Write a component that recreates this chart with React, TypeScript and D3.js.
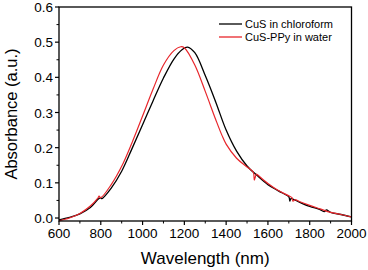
import React from "react";
import * as d3 from "d3";

const blackWl = [600, 650, 700, 750, 790, 800, 805, 850, 900, 950, 1000, 1050, 1100, 1150, 1190, 1215, 1250, 1300, 1350, 1400, 1450, 1500, 1550, 1600, 1650, 1700, 1705, 1710, 1750, 1800, 1850, 1870, 1880, 1900, 1950, 2000];
const blackAbs = [-0.005, 0.002, 0.012, 0.03, 0.055, 0.057, 0.055, 0.085, 0.133, 0.198, 0.265, 0.333, 0.398, 0.452, 0.479, 0.486, 0.47, 0.405, 0.33, 0.25, 0.19, 0.148, 0.12, 0.095, 0.077, 0.06, 0.048, 0.055, 0.045, 0.033, 0.024, 0.018, 0.023, 0.016, 0.01, 0.003];

const redWl = [600, 650, 700, 750, 785, 792, 800, 850, 900, 950, 1000, 1050, 1100, 1150, 1183, 1200, 1250, 1300, 1350, 1380, 1400, 1450, 1500, 1530, 1535, 1545, 1550, 1600, 1650, 1700, 1715, 1720, 1730, 1750, 1800, 1850, 1900, 1950, 2000];
const redAbs = [-0.008, 0.0, 0.013, 0.034, 0.056, 0.062, 0.058, 0.095, 0.147, 0.215, 0.29, 0.366, 0.435, 0.476, 0.487, 0.484, 0.435, 0.36, 0.28, 0.235, 0.21, 0.17, 0.145, 0.13, 0.108, 0.125, 0.123, 0.098, 0.078, 0.063, 0.058, 0.048, 0.052, 0.047, 0.036, 0.026, 0.016, 0.01, 0.003];

const xTicks = [600, 800, 1000, 1200, 1400, 1600, 1800, 2000];
const yTicks = [0.0, 0.1, 0.2, 0.3, 0.4, 0.5, 0.6];
const seriesNames = ["CuS in chloroform", "CuS-PPy in water"];
const seriesColors = ["#000000", "#e8262b"];

export default function App() {
  const W = 368, H = 270;
  const left = 59, right = 351.5, top = 7, bottom = 221;
  const x = d3.scaleLinear().domain([600, 2000]).range([left, right]);
  const y = d3.scaleLinear().domain([-0.0085, 0.6]).range([bottom, top]);
  const line = d3
    .line<[number, number]>()
    .x((d) => x(d[0]))
    .y((d) => y(d[1]))
    .curve(d3.curveCatmullRom.alpha(0.5));
  const blackData = blackWl.map((w, i) => [w, blackAbs[i]] as [number, number]);
  const redData = redWl.map((w, i) => [w, redAbs[i]] as [number, number]);
  const xMinor = d3.range(700, 2000, 200);
  const yMinor = d3.range(0.05, 0.6, 0.1);
  const font = "'Liberation Sans', Arial, sans-serif";
  return (
    <svg width={W} height={H} style={{ position: "absolute", left: 0, top: 0 }}>
      <rect width={W} height={H} fill="#fff" />
      <path d={line(blackData) || ""} fill="none" stroke={seriesColors[0]} strokeWidth={1.3} />
      <path d={line(redData) || ""} fill="none" stroke={seriesColors[1]} strokeWidth={1.2} />
      <rect x={left} y={top} width={right - left} height={bottom - top} fill="none" stroke="#000" strokeWidth={1.3} />
      {xTicks.map((t) => (
        <g key={"xt" + t}>
          <line x1={x(t)} x2={x(t)} y1={bottom} y2={bottom + 4} stroke="#000" strokeWidth={1.2} />
          <text x={x(t)} y={238} textAnchor="middle" fontFamily={font} fontSize={13.5}>
            {t}
          </text>
        </g>
      ))}
      {xMinor.map((t) => (
        <line key={"xm" + t} x1={x(t)} x2={x(t)} y1={bottom} y2={bottom + 2.5} stroke="#000" strokeWidth={1} />
      ))}
      {yTicks.map((t) => (
        <g key={"yt" + t}>
          <line x1={left - 4} x2={left} y1={y(t)} y2={y(t)} stroke="#000" strokeWidth={1.2} />
          <text x={53} y={y(t) + 5} textAnchor="end" fontFamily={font} fontSize={13.5}>
            {t.toFixed(1)}
          </text>
        </g>
      ))}
      {yMinor.map((t) => (
        <line key={"ym" + t} x1={left - 2.5} x2={left} y1={y(t)} y2={y(t)} stroke="#000" strokeWidth={1} />
      ))}
      <text x={(left + right) / 2} y={264} textAnchor="middle" fontFamily={font} fontSize={17}>
        Wavelength (nm)
      </text>
      <text
        transform={`translate(17,${(top + bottom) / 2}) rotate(-90)`}
        textAnchor="middle"
        fontFamily={font}
        fontSize={16.5}
      >
        Absorbance (a.u.)
      </text>
      {seriesNames.map((name, i) => (
        <g key={name}>
          <line x1={219} x2={242} y1={24 + i * 13} y2={24 + i * 13} stroke={seriesColors[i]} strokeWidth={1.3} />
          <text x={245} y={24 + i * 13 + 4} fontFamily={font} fontSize={11}>
            {name}
          </text>
        </g>
      ))}
    </svg>
  );
}
